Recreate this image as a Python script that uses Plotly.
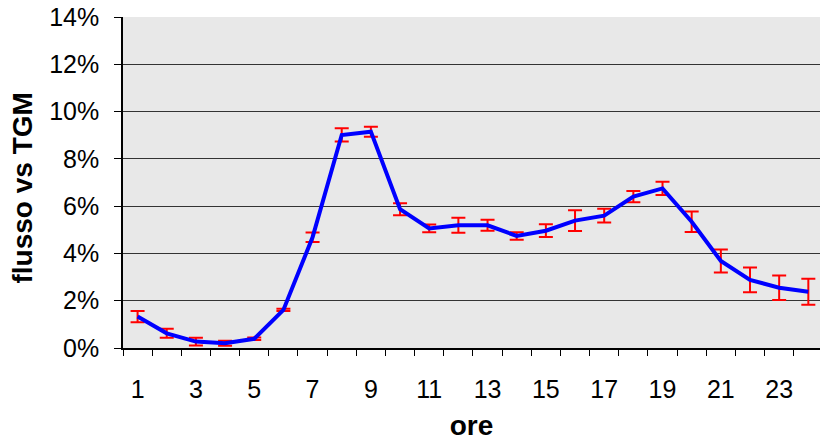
import plotly.graph_objects as go

hours = list(range(1, 25))
flow_pct = [1.33, 0.62, 0.27, 0.20, 0.39, 1.61, 4.68, 9.01, 9.15, 5.87, 5.06, 5.19,
            5.19, 4.74, 4.96, 5.39, 5.60, 6.40, 6.75, 5.34, 3.68, 2.88, 2.55, 2.38]
err_pct = [0.24, 0.19, 0.16, 0.11, 0.05, 0.05, 0.20, 0.28, 0.21, 0.25, 0.16, 0.32,
           0.23, 0.16, 0.27, 0.44, 0.29, 0.24, 0.28, 0.43, 0.49, 0.52, 0.52, 0.55]
x_tick_vals = list(range(1, 24, 2))
x_tick_text = [str(v) for v in x_tick_vals]
y_tick_vals = [0, 0.02, 0.04, 0.06, 0.08, 0.10, 0.12, 0.14]

flow = [v / 100 for v in flow_pct]
err = [v / 100 for v in err_pct]

FONT = "Arial, Liberation Sans, sans-serif"

fig = go.Figure()
fig.add_trace(go.Scatter(
    x=hours, y=flow, mode="lines",
    line=dict(color="#0000FF", width=4),
    error_y=dict(type="data", array=err, visible=True, color="#FF0000",
                 thickness=2, width=7),
    showlegend=False,
))

fig.update_layout(
    width=820, height=441,
    margin=dict(l=123, r=0, t=17, b=93),
    paper_bgcolor="white", plot_bgcolor="#E8E8E8",
    font=dict(family=FONT, size=25, color="black"),
    xaxis=dict(
        range=[0.5, 24.4], tickmode="array", tickvals=x_tick_vals, ticktext=x_tick_text,
        ticks="", showgrid=False, zeroline=False, automargin=False,
        showline=True, linecolor="black", linewidth=1.5,
        ticklabelstandoff=18,
        minor=dict(ticks="outside", tick0=0.5, dtick=1, ticklen=6, tickcolor="black",
                   tickwidth=1, showgrid=False),
        title=dict(text="<b>ore</b>", font=dict(size=28), standoff=18),
    ),
    yaxis=dict(
        range=[0, 0.14], tickmode="array", tickvals=y_tick_vals, tickformat=".0%",
        ticks="outside", ticklen=7, tickcolor="black", tickwidth=1,
        showgrid=True, gridcolor="#333333", gridwidth=1, zeroline=False, automargin=False,
        showline=True, linecolor="black", linewidth=1.5,
        ticklabelstandoff=10,
    ),
    annotations=[dict(
        text="<b>flusso vs TGM</b>", textangle=-90,
        xref="paper", yref="paper", x=(22 - 123) / 697, y=(348 - 188.5) / 331,
        xanchor="center", yanchor="middle", showarrow=False,
        font=dict(family=FONT, size=28, color="black"),
    )],
)

fig.write_html(
    "out.html",
    config={"displayModeBar": False},
    post_script="document.body.style.margin='0';document.body.style.overflow='hidden';",
)
